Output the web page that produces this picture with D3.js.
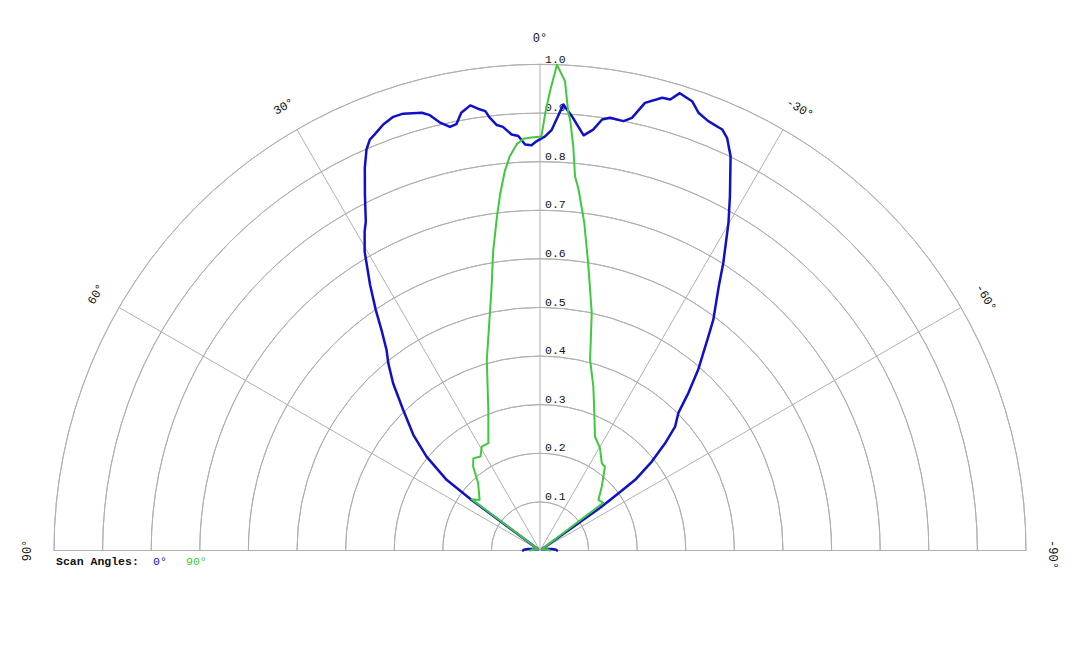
<!DOCTYPE html>
<html>
<head>
<meta charset="utf-8">
<script src="https://cdn.jsdelivr.net/npm/d3@7"></script>
<style>
  html, body { margin: 0; padding: 0; background: #ffffff; }
  svg { display: block; }
  text { font-family: "Liberation Mono", "Courier New", monospace; }
</style>
</head>
<body>
<svg id="chart" width="1080" height="648"></svg>
<script>
// ---------------- data ----------------
const radialTicks = [0.1, 0.2, 0.3, 0.4, 0.5, 0.6, 0.7, 0.8, 0.9, 1.0];
const angleTicks = [90, 60, 30, 0, -30, -60, -90];
const spokeAngles = [60, 30, 0, -30, -60];
const seriesNames = ["0°", "90°"];
const legendTitle = "Scan Angles:";

// Scan angle 0° (blue): angle in degrees (positive = left), relative intensity
const scan0Angles = [90, 87, 83, 78, 70, 60, 55, 53.5, 52.9, 50.4, 47.6, 44.2, 41.3, 39.0, 37.4, 35.7, 34.3, 32.6, 30.4, 28.8, 27.9, 26.2, 24.6, 23.4, 22.5, 21.7, 20.2, 18.7, 17.4, 15.1, 14.2, 13.2, 12.0, 11.1, 10.2, 8.9, 8.0, 7.1, 6.6, 5.8, 5.0, 3.9, 3.0, 2.1, 1.2, 0.5, -0.7, -1.6, -3.0, -4.2, -6.0, -7.2, -8.2, -9.2, -11.0, -12.0, -13.2, -15.1, -16.1, -17.0, -18.7, -19.9, -21.4, -23.4, -24.4, -25.8, -28.2, -29.9, -32.5, -34.1, -36.9, -38.2, -41.2, -43.3, -45.2, -47.5, -49.4, -51.5, -53.4, -53.9, -54.6, -55.5, -60, -70, -78, -83, -87, -90];
const scan0Values = [0.035, 0.033, 0.025, 0.015, 0.008, 0.005, 0.008, 0.175, 0.241, 0.303, 0.353, 0.404, 0.458, 0.496, 0.520, 0.559, 0.600, 0.649, 0.713, 0.749, 0.766, 0.816, 0.866, 0.899, 0.915, 0.921, 0.934, 0.942, 0.942, 0.933, 0.924, 0.905, 0.891, 0.894, 0.915, 0.927, 0.918, 0.911, 0.896, 0.880, 0.875, 0.858, 0.854, 0.836, 0.834, 0.842, 0.852, 0.866, 0.919, 0.896, 0.859, 0.873, 0.896, 0.902, 0.900, 0.910, 0.946, 0.965, 0.966, 0.984, 0.976, 0.958, 0.949, 0.944, 0.932, 0.901, 0.827, 0.778, 0.702, 0.656, 0.594, 0.560, 0.494, 0.445, 0.401, 0.377, 0.339, 0.294, 0.244, 0.200, 0.156, 0.008, 0.005, 0.008, 0.015, 0.025, 0.033, 0.035];

// Scan angle 90° (green)
const scan90Angles = [90, 80, 70, 60, 55, 53.1, 50.1, 42.6, 38.5, 35.9, 32.3, 29.3, 25.7, 20.2, 15.6, 11.7, 10.3, 8.9, 7.4, 6.4, 5.3, 4.4, 3.3, 2.3, 1.2, -0.2, -0.7, -1.25, -2.0, -3.05, -3.7, -4.0, -4.7, -5.35, -6.1, -7.7, -9.5, -12.3, -14.7, -18.0, -21.1, -25.8, -30.4, -35.3, -37.8, -44.0, -49.1, -53.0, -55, -60, -70, -80, -90];
const scan90Values = [0.02, 0.015, 0.008, 0.005, 0.008, 0.176, 0.162, 0.188, 0.221, 0.234, 0.229, 0.245, 0.245, 0.308, 0.407, 0.506, 0.556, 0.623, 0.690, 0.737, 0.784, 0.813, 0.837, 0.848, 0.850, 0.852, 0.901, 0.945, 1.0, 0.967, 0.902, 0.889, 0.835, 0.773, 0.747, 0.680, 0.600, 0.500, 0.406, 0.355, 0.310, 0.260, 0.244, 0.220, 0.218, 0.183, 0.159, 0.163, 0.008, 0.005, 0.008, 0.015, 0.02];

const seriesColors = ["#1010c8", "#40c840"];
const seriesWidths = [2.5, 2];

// ---------------- layout ----------------
const cx = 540, cy = 550.5, R = 486;
const labelRadius = 512;
const gridColor = "#b0b0b0";
const textColor = "#111";

const svg = d3.select("#chart");
const g = svg.append("g").attr("transform", `translate(${cx},${cy})`);

const rScale = d3.scaleLinear().domain([0, 1]).range([0, R]);
const toRad = d => -d * Math.PI / 180; // positive angle -> left side

// rings
const arc = d3.arc();
g.selectAll("path.ring")
  .data(radialTicks)
  .join("path")
  .attr("class", "ring")
  .attr("d", d => arc({innerRadius: rScale(d), outerRadius: rScale(d), startAngle: -Math.PI / 2, endAngle: Math.PI / 2}))
  .attr("fill", "none")
  .attr("stroke", gridColor)
  .attr("stroke-width", 1);

// spokes
g.selectAll("line.spoke")
  .data(spokeAngles)
  .join("line")
  .attr("class", "spoke")
  .attr("x1", 0).attr("y1", 0)
  .attr("x2", d => rScale(1) * Math.sin(toRad(d)))
  .attr("y2", d => -rScale(1) * Math.cos(toRad(d)))
  .attr("stroke", gridColor)
  .attr("stroke-width", 1);

// baseline (±90°)
g.append("line")
  .attr("x1", -rScale(1)).attr("y1", 0)
  .attr("x2", rScale(1)).attr("y2", 0)
  .attr("stroke", gridColor)
  .attr("stroke-width", 1);

// radial tick labels
const fmt = d3.format(".1f");
g.selectAll("text.rlabel")
  .data(radialTicks)
  .join("text")
  .attr("class", "rlabel")
  .attr("x", 5)
  .attr("y", d => -rScale(d) - 2)
  .attr("font-size", 11.5)
  .attr("fill", textColor)
  .text(d => fmt(d));

// angle labels
g.selectAll("text.alabel")
  .data(angleTicks)
  .join("text")
  .attr("class", "alabel")
  .attr("transform", d => {
    const a = toRad(d);
    return `translate(${labelRadius * Math.sin(a)},${-labelRadius * Math.cos(a)}) rotate(${-d})`;
  })
  .attr("dx", d => d < 0 ? 4 : 0)
  .attr("text-anchor", "middle")
  .attr("dominant-baseline", "central")
  .attr("font-size", 12)
  .attr("fill", textColor)
  .text(d => `${d}°`);

// series
const series = [
  {angles: scan0Angles, values: scan0Values},
  {angles: scan90Angles, values: scan90Values}
];
const line = d3.lineRadial()
  .angle(d => toRad(d[0]))
  .radius(d => rScale(d[1]));

series.forEach((s, i) => {
  const pts = s.angles.map((a, j) => [a, s.values[j]]);
  g.append("path")
    .datum(pts)
    .attr("d", line)
    .attr("fill", "none")
    .attr("stroke", seriesColors[i])
    .attr("stroke-width", seriesWidths[i])
    .attr("stroke-linejoin", "round")
    .attr("stroke-linecap", "round");
});

// legend
const legend = svg.append("text")
  .attr("x", 56)
  .attr("y", 565)
  .attr("font-size", 11.5)
  .attr("font-weight", "bold")
  .attr("fill", textColor)
  .style("white-space", "pre");
legend.append("tspan").text(legendTitle);
const legendX = [153, 186];
seriesNames.forEach((n, i) => {
  legend.append("tspan")
    .attr("x", legendX[i])
    .attr("font-weight", "normal")
    .attr("fill", seriesColors[i])
    .text(n);
});
</script>
</body>
</html>
